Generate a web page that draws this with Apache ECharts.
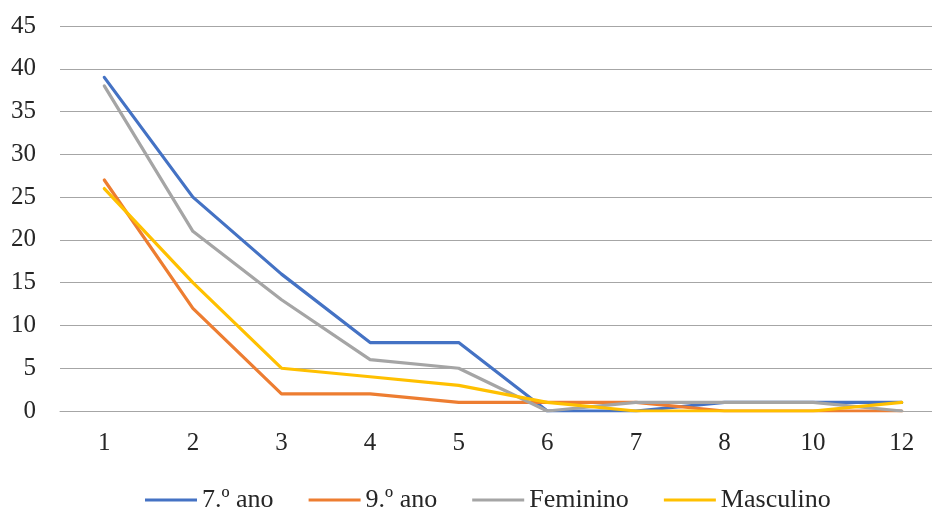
<!DOCTYPE html>
<html>
<head>
<meta charset="utf-8">
<script src="https://cdn.jsdelivr.net/npm/echarts@6/dist/echarts.min.js"></script>
<style>
html,body{margin:0;padding:0;background:#fff;overflow:hidden;}
#chart{width:960px;height:508px;}
</style>
</head>
<body>
<div id="chart"></div>
<script>
const categories = ['1','2','3','4','5','6','7','8','10','12'];
const ano7 = [39,25,16,8,8,0,0,1,1,1];
const ano9 = [27,12,2,2,1,1,1,0,0,0];
const feminino = [38,21,13,6,5,0,1,1,1,0];
const masculino = [26,15,5,4,3,1,0,0,0,1];
const seriesNames = ['7.º ano','9.º ano','Feminino','Masculino'];
const colors = ['#4472C4','#ED7D31','#A5A5A5','#FFC000'];

const font = '"Liberation Serif", "Times New Roman", serif';
const chart = echarts.init(document.getElementById('chart'));
const mk = (name, data, color) => ({
  name, type: 'line', data, color,
  symbol: 'none',
  lineStyle: {width: 3.2, color, cap: 'round', join: 'round'}
});
chart.setOption({
  animation: false,
  color: colors,
  // plot area runs past the right edge of the visible page
  grid: {left: 60, right: 14, top: 26, bottom: 97, containLabel: false},
  legend: {
    top: 482, left: 140,
    itemWidth: 52, itemHeight: 3, itemGap: 35,
    icon: 'rect',
    textStyle: {fontFamily: font, fontSize: 26, color: '#262626', padding: [0,0,0,0]},
    data: seriesNames
  },
  xAxis: {
    type: 'category', data: categories, boundaryGap: true,
    axisLine: {show: true, lineStyle: {color: '#A6A6A6', width: 1}},
    axisTick: {show: false},
    axisLabel: {fontFamily: font, fontSize: 25, color: '#262626', margin: 20}
  },
  yAxis: {
    type: 'value', min: 0, max: 45, interval: 5,
    axisLine: {show: false}, axisTick: {show: false},
    splitLine: {lineStyle: {color: '#A6A6A6', width: 1}},
    axisLabel: {fontFamily: font, fontSize: 25, color: '#262626', margin: 24}
  },
  series: [
    mk(seriesNames[0], ano7, colors[0]),
    mk(seriesNames[1], ano9, colors[1]),
    mk(seriesNames[2], feminino, colors[2]),
    mk(seriesNames[3], masculino, colors[3])
  ]
});
</script>
</body>
</html>
